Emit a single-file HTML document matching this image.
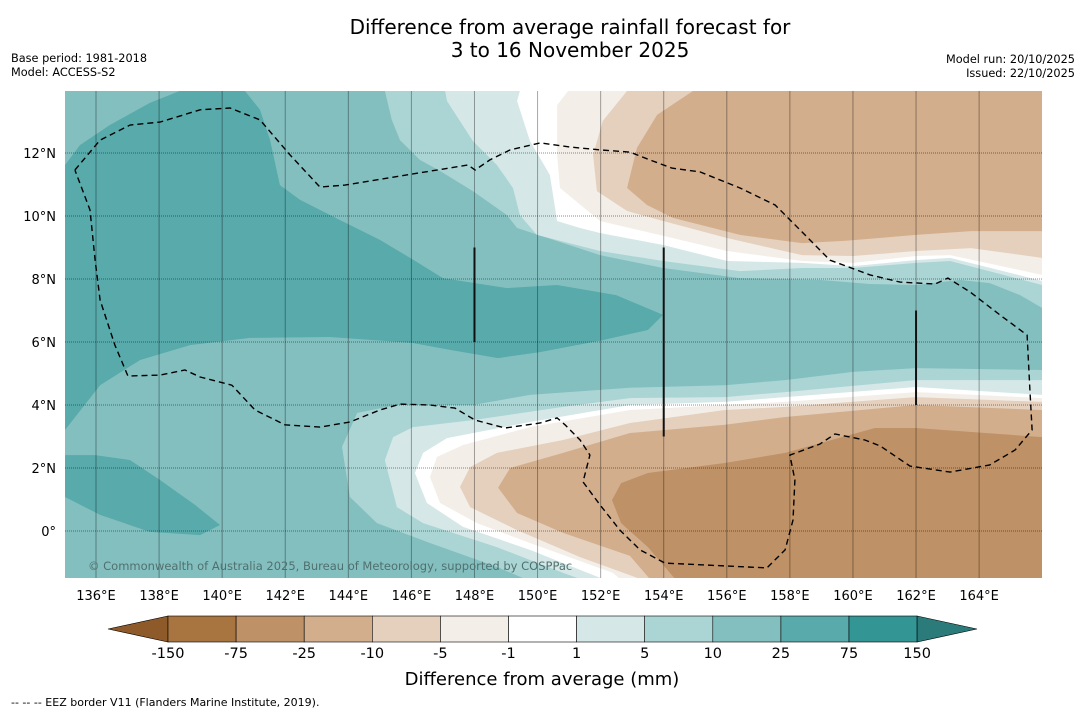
<!DOCTYPE html>
<html><head><meta charset="utf-8"><style>
body{margin:0;background:#fff;width:1085px;height:713px;overflow:hidden;font-family:"Liberation Sans",sans-serif}
svg text{font-family:"DejaVu Sans","Liberation Sans",sans-serif}
</style></head><body>
<svg id="chart" width="1085" height="713" xmlns="http://www.w3.org/2000/svg">
<text x="570" y="34" text-anchor="middle" font-size="20">Difference from average rainfall forecast for</text>
<text x="570" y="57" text-anchor="middle" font-size="20">3 to 16 November 2025</text>
<text x="11" y="62" font-size="11.3">Base period: 1981-2018</text>
<text x="11" y="76" font-size="11.3">Model: ACCESS-S2</text>
<text x="1075" y="63" text-anchor="end" font-size="11.3">Model run: 20/10/2025</text>
<text x="1075" y="77" text-anchor="end" font-size="11.3">Issued: 22/10/2025</text>
<defs><clipPath id="mapclip"><rect x="65" y="91" width="977" height="487"/></clipPath></defs>
<g id="map" clip-path="url(#mapclip)"></g>
<g id="axes"></g>
<g id="cbar"></g>
<text x="542" y="685" text-anchor="middle" font-size="18">Difference from average (mm)</text>
<text x="11" y="706" font-size="11">--  --  -- EEZ border V11 (Flanders Marine Institute, 2019).</text>
</svg>
<script>
const lonTicks=[136,138,140,142,144,146,148,150,152,154,156,158,160,162,164];
const latTicks=[0,2,4,6,8,10,12];
const cbarLabels=["-150","-75","-25","-10","-5","-1","1","5","10","25","75","150"];
const cbarColors=["#a87440","#bf9166","#d2ae8c","#e4d0bd","#f3eee8","#ffffff","#d5e8e7","#abd5d4","#84bfbf","#58aaab","#339694"];
const topPos5=[[145.16,13.97],[145.38,13.05],[145.64,12.41],[146.27,11.78],[146.91,11.43],[147.95,10.79],[149.03,10.03],[149.35,9.62],[151.98,8.76],[153.98,8.35],[156.42,8.03],[158.95,7.97],[160.54,7.84],[162.00,7.81],[163.39,7.97],[164.34,7.87],[165.30,7.49],[166,7.08]];
const topPos1=[[147.07,13.97],[147.13,13.65],[147.95,12.38],[148.71,11.62],[149.22,10.89],[149.44,10.03],[149.98,9.40],[151.98,8.89],[153.98,8.57],[156.42,8.25],[158.38,8.35],[160.00,8.35],[162.00,8.51],[163.08,8.57],[166,7.81]];
const topNeg1=[[149.44,13.97],[149.35,13.65],[149.76,12.38],[150.39,11.30],[150.62,9.84],[151.35,9.62],[151.98,9.46],[153.98,9.08],[156.01,8.57],[158.38,8.51],[160.00,8.41],[162.00,8.60],[163.08,8.67],[166,7.94]];
const topNeg5=[[150.97,13.97],[150.62,13.52],[150.62,11.94],[150.71,10.89],[151.98,9.84],[153.98,9.37],[156.01,8.89],[158.38,8.57],[160.00,8.51],[162.00,8.73],[163.08,8.76],[166,8.13]];
const topNeg10=[[152.84,13.97],[152.07,13.02],[151.76,11.94],[151.88,10.79],[152.84,10.16],[153.98,9.84],[156.01,9.30],[158.38,8.76],[160.00,8.73],[162.00,8.89],[163.74,8.98],[166,8.67]];
const topNeg25=[[154.93,13.97],[153.79,13.21],[153.15,12.16],[152.84,10.89],[153.47,10.35],[154.29,9.94],[156.42,9.40],[158.38,9.14],[159.72,9.21],[162.00,9.40],[163.74,9.52],[166,9.52]];
const botPos5=[[166,5.11],[162.00,5.17],[160.00,5.05],[157.85,4.79],[155.94,4.63],[152.93,4.55],[149.76,4.32],[147.95,4.00],[145.54,4.00],[144.28,3.75],[143.80,2.67],[144.05,1.08],[144.91,0.25],[146.59,-0.38],[148.71,-1.14],[149.60,-1.52]];
const botPos1=[[166,4.79],[162.00,4.79],[157.85,4.41],[155.94,4.25],[152.93,4.22],[150.81,3.94],[147.95,3.52],[146.05,3.30],[145.42,2.98],[145.16,2.25],[145.54,0.76],[146.37,0.25],[148.71,-0.51],[150.81,-1.33],[151.35,-1.52]];
const botNeg1=[[166,4.32],[162.00,4.57],[157.85,4.25],[155.94,4.10],[152.93,4.00],[149.76,3.46],[147.13,2.95],[146.37,2.48],[146.11,1.84],[146.49,0.89],[147.64,0.13],[149.76,-0.60],[152.07,-1.52]];
const botNeg5=[[166,4.22],[162.00,4.41],[157.85,4.10],[155.94,4.00],[152.93,3.84],[149.76,3.30],[147.64,2.73],[146.81,2.35],[146.59,1.71],[146.91,0.89],[148.08,0.25],[149.76,-0.38],[152.39,-1.33],[152.61,-1.52]];
const botNeg10=[[166,4.10],[162.00,4.25],[157.85,3.94],[155.94,3.84],[152.93,3.43],[150.81,2.89],[148.71,2.48],[147.86,2.03],[147.54,1.40],[147.86,0.76],[149.35,0.03],[151.35,-0.83],[153.25,-1.52]];
const botNeg25=[[166,3.84],[162.00,4.00],[157.85,3.62],[155.94,3.37],[152.93,3.11],[150.81,2.48],[149.13,2.00],[148.75,1.37],[149.35,0.57],[150.81,-0.06],[152.93,-0.79],[153.56,-1.52]];
const botNeg75=[[166,2.98],[162.00,3.27],[160.70,3.27],[157.85,2.48],[155.94,2.16],[153.50,1.84],[152.65,1.52],[152.36,0.98],[152.65,0.25],[153.50,-0.51],[154.36,-1.52]];
const wetNorth=[[135.02,11.62],[135.49,12.25],[136.44,12.89],[137.71,13.59],[138.66,13.97],[140.72,13.97],[141.20,13.37],[141.52,12.41],[141.83,10.98],[142.47,10.51],[143.74,9.87],[145.00,9.24],[145.96,8.67],[147.00,8.03],[149.03,7.71],[150.62,7.81],[152.49,7.49],[153.98,6.86],[153.50,6.38],[152.07,6.06],[150.08,5.68],[148.75,5.49],[147.22,5.75],[146.02,5.97],[143.42,6.16],[140.88,6.13],[138.98,5.90],[137.40,5.43],[136.13,4.63],[135.02,3.21]];
const wetSouth=[[135.02,2.41],[135.97,2.41],[137.08,2.25],[138.03,1.62],[139.14,0.83],[139.93,0.19],[139.30,-0.13],[137.71,-0.03],[136.13,0.51],[135.02,1.08]];
const eez=[[135.33,11.46],[136.13,12.41],[137.08,12.89],[138.03,12.98],[139.30,13.37],[140.25,13.43],[141.20,13.05],[142.15,11.94],[143.10,10.92],[143.89,10.98],[146.27,11.37],[147.79,11.62],[148.02,11.46],[148.49,11.78],[149.13,12.10],[150.08,12.32],[151.03,12.19],[151.98,12.10],[152.93,12.03],[153.56,11.78],[154.26,11.52],[155.15,11.40],[156.42,10.89],[157.53,10.35],[158.32,9.56],[159.27,8.60],[160.54,8.13],[161.49,7.90],[162.60,7.84],[163.01,8.03],[163.71,7.59],[164.66,6.86],[165.52,6.22],[165.61,4.48],[165.68,3.21],[165.14,2.57],[164.34,2.10],[163.08,1.87],[161.81,2.06],[160.86,2.70],[160.38,2.89],[159.43,3.08],[158.95,2.76],[158.00,2.41],[158.16,1.62],[158.10,0.35],[157.85,-0.60],[157.27,-1.17],[154.04,-1.02],[153.25,-0.60],[152.61,0.03],[151.98,0.83],[151.44,1.56],[151.66,2.41],[151.35,2.89],[150.87,3.37],[150.62,3.59],[150.08,3.43],[148.97,3.27],[148.02,3.52],[147.38,3.90],[146.59,4.00],[145.64,4.03],[145.00,3.84],[144.05,3.46],[143.10,3.30],[141.99,3.37],[141.04,3.84],[140.31,4.63],[139.30,4.89],[138.82,5.11],[138.03,4.95],[137.01,4.92],[136.60,5.90],[136.13,7.33],[135.97,8.60],[135.81,10.19],[135.33,11.46]];
const meridians=[[148,9,6],[154,9,3],[162,7,4]];

const NS="http://www.w3.org/2000/svg";
const X=lon=>96+(lon-136)*31.54;
const Y=lat=>531-lat*31.5;
function mk(tag,attrs,parent){const e=document.createElementNS(NS,tag);for(const k in attrs)e.setAttribute(k,attrs[k]);parent.appendChild(e);return e;}
const map=document.getElementById('map');
const base=mk('rect',{x:65,y:91,width:977,height:487,fill:'#84bfbf'},map);


function pts(a){return a.map(p=>X(p[0]).toFixed(1)+','+Y(p[1]).toFixed(1));}
function region(a,fill,name){
  const p=mk('polygon',{points:pts(a).join(' '),fill:fill},map);
  
  
}
function topRegion(a,fill,name){region(a.concat([[167,15],[a[0][0],15]]),fill,name);}
function botRegion(a,fill,name){region(a.concat([[a[a.length-1][0],-3],[167,-3]]),fill,name);}
region(wetNorth,'#58aaab','wet-25-75-north');
region(wetSouth,'#58aaab','wet-25-75-south');
topRegion(topPos5,'#abd5d4','north-5-10-band');
topRegion(topPos1,'#d5e8e7','north-1-5-band');
topRegion(topNeg1,'#ffffff','north-neutral-band');
topRegion(topNeg5,'#f3eee8','north-minus-1-5-band');
topRegion(topNeg10,'#e4d0bd','north-minus-5-10-band');
topRegion(topNeg25,'#d2ae8c','north-minus-10-25-region');
botRegion(botPos5,'#abd5d4','south-5-10-band');
botRegion(botPos1,'#d5e8e7','south-1-5-band');
botRegion(botNeg1,'#ffffff','south-neutral-band');
botRegion(botNeg5,'#f3eee8','south-minus-1-5-band');
botRegion(botNeg10,'#e4d0bd','south-minus-5-10-band');
botRegion(botNeg25,'#d2ae8c','south-minus-10-25-band');
botRegion(botNeg75,'#bf9166','south-minus-25-75-region');
lonTicks.forEach(l=>{const g=mk('line',{x1:X(l),x2:X(l),y1:91,y2:578,stroke:'rgba(0,0,0,0.35)','stroke-width':1},map);

});
latTicks.forEach(l=>{const g=mk('line',{x1:65,x2:1042,y1:Y(l),y2:Y(l),stroke:'rgba(0,0,0,0.45)','stroke-width':1,'stroke-dasharray':'1,1'},map);

});
const ez=mk('polyline',{points:pts(eez).join(' '),fill:'none',stroke:'#000','stroke-width':1.4,'stroke-dasharray':'6,4'},map);


meridians.forEach(m=>{const l=mk('line',{x1:X(m[0]),x2:X(m[0]),y1:Y(m[1]),y2:Y(m[2]),stroke:'#111','stroke-width':2},map);

});
const cp=mk('text',{x:88,y:570,'font-size':11.5,fill:'#50706f'},map);
cp.textContent='© Commonwealth of Australia 2025, Bureau of Meteorology, supported by COSPPac';


const axes=document.getElementById('axes');
lonTicks.forEach(l=>{const t=mk('text',{x:X(l),y:600,'text-anchor':'middle','font-size':13},axes);t.textContent=l+'°E';

});
latTicks.forEach(l=>{const t=mk('text',{x:56,y:Y(l)+5,'text-anchor':'end','font-size':13},axes);t.textContent=l===0?'0°':l+'°N';

});
const cb=document.getElementById('cbar');
const cx0=168,cw=68.1,cy=616,ch=26;
const lt=mk('polygon',{points:`108,629 ${cx0},${cy} ${cx0},${cy+ch}`,fill:'#8f5a2a',stroke:'#000','stroke-width':0.6},cb);


cbarColors.forEach((c,i)=>{const r=mk('rect',{x:cx0+i*cw,y:cy,width:cw,height:ch,fill:c,stroke:'#000','stroke-width':0.6},cb);

});
const xe=cx0+cbarColors.length*cw;
const rt=mk('polygon',{points:`${xe},${cy} 977,629 ${xe},${cy+ch}`,fill:'#2a7b7a',stroke:'#000','stroke-width':0.6},cb);


cbarLabels.forEach((s,i)=>{const t=mk('text',{x:cx0+i*cw,y:658,'text-anchor':'middle','font-size':14.5},cb);t.textContent=s;

});
</script>
</body></html>
